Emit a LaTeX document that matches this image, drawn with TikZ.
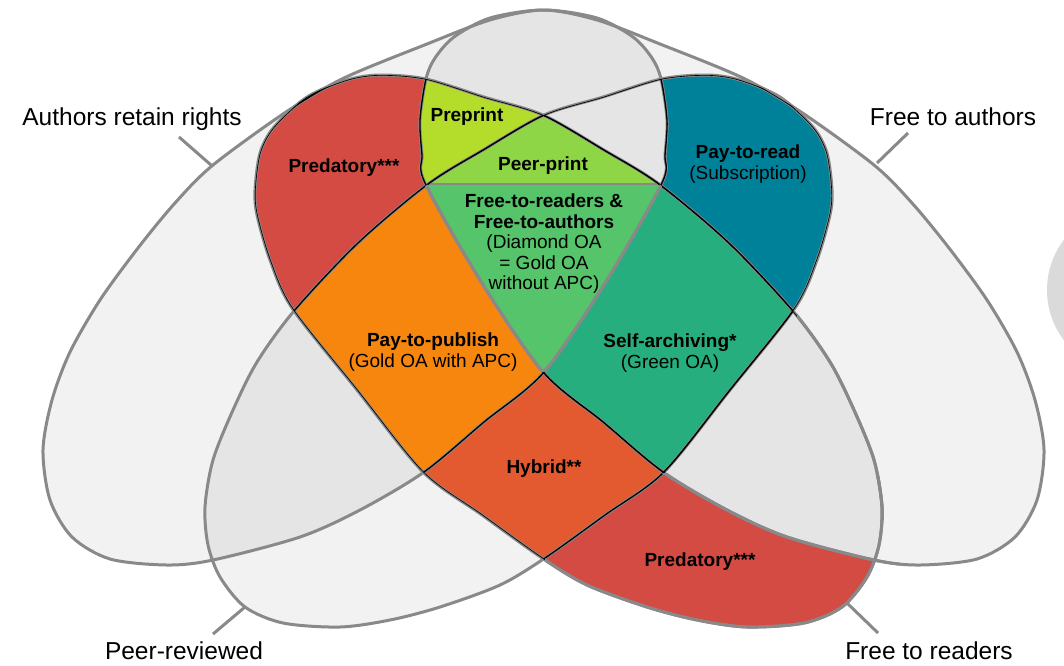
\documentclass[tikz,border=0pt]{standalone}
\usepackage{fontspec}
\setmainfont{Liberation Sans}
\definecolor{lg}{HTML}{F2F2F2}
\definecolor{mg}{HTML}{E5E5E5}
\definecolor{edgegrey}{HTML}{898989}
\definecolor{circgrey}{HTML}{DADADA}
\definecolor{predred}{HTML}{D34B42}
\definecolor{limeg}{HTML}{B4DC2B}
\definecolor{peerg}{HTML}{8FD646}
\definecolor{diamg}{HTML}{55C46A}
\definecolor{tealg}{HTML}{27AE7F}
\definecolor{blueg}{HTML}{00819A}
\definecolor{orangeg}{HTML}{F6860E}
\definecolor{hybr}{HTML}{E45A30}
\def\shAR{plot[smooth cycle] coordinates {(43,450) (52,400) (70,352) (100,300) (138,248) (175,203) (213,165) (286,112) (344,78) (427,44) (490,20) (543,10) (597,18) (633,37) (652,58) (661,79) (667,120) (665,155) (662,183) (607,280) (544,372) (484,422) (424,472) (360,510) (300,537) (213,560) (167,565) (110,559) (72,537) (50,500)}}
\def\shFA{plot[smooth cycle] coordinates {(1044,450) (1035,400) (1017,352) (987,300) (949,248) (912,203) (874,165) (801,112) (743,78) (660,44) (597,20) (544,10) (490,18) (454,37) (435,58) (426,79) (420,120) (422,155) (425,183) (480,280) (543,372) (603,422) (663,472) (727,510) (787,537) (874,560) (920,565) (977,559) (1015,537) (1037,500)}}
\def\shPR{plot[smooth cycle] coordinates {(205,507) (213,460) (233,410) (257,362) (294,311) (358,243) (428,184) (483,150) (544,115) (603,97) (661,79) (707,75) (740,80) (780,97) (813,127) (827,153) (832,190) (830,215) (817,260) (795,308) (730,390) (664,472) (605,515) (545,558) (500,585) (440,607) (390,620) (340,627) (283,623) (245,607) (220,577) (208,545)}}
\def\shFR{plot[smooth cycle] coordinates {(882,507) (874,460) (854,410) (830,362) (793,311) (729,243) (659,184) (604,150) (543,115) (484,97) (426,79) (380,75) (347,80) (307,97) (274,127) (260,153) (255,190) (257,215) (270,260) (292,308) (357,390) (423,472) (482,515) (542,558) (587,585) (647,607) (697,620) (747,627) (804,623) (842,607) (867,577) (879,545)}}
\begin{document}
\begin{tikzpicture}[x=1pt,y=-1pt,
  edge/.style={draw=edgegrey, line width=3pt},
  blk/.style={draw=black, line width=1.3pt},
  ptr/.style={draw=edgegrey, line width=3pt},
  lab/.style={font=\fontsize{24.5}{29}\selectfont, text=black, inner sep=0pt},
  reg/.style={font=\fontsize{19}{20.5}\selectfont, text=black, align=center, inner sep=0pt}]
\useasboundingbox (0,0) rectangle (1064,665);
\fill[white] (0,0) rectangle (1064,665);
% partial grey disc at right edge
\fill[circgrey] (1130,290) circle[radius=83pt];
% base fills
\fill[lg] \shAR; \fill[lg] \shFA; \fill[lg] \shPR; \fill[lg] \shFR;
% overlaps
\begin{scope}\clip \shAR; \fill[mg] \shFA; \fill[mg] \shPR; \fill[mg] \shFR; \end{scope}
\begin{scope}\clip \shFA; \fill[mg] \shPR; \fill[mg] \shFR; \end{scope}
\begin{scope}\clip \shPR; \fill[mg] \shFR; \end{scope}
% coloured regions
\begin{scope}\clip \shPR; \fill[blueg] \shFA; \clip \shFA; \fill[mg] \shAR; \end{scope}
\fill[predred] \shFR;
\begin{scope}\clip \shFR; \fill[mg] \shFA; \clip \shFA; \fill[limeg] \shAR; \end{scope}
\begin{scope}\clip \shFR; \fill[hybr] \shPR; \clip \shPR;
  \fill[orangeg] \shAR; \fill[tealg] \shFA;
  \clip \shFA; \fill[diamg] \shAR; \clip \shAR;
  \fill[peerg] (0,0) rectangle (1064,184);
  \draw[edgegrey, line width=2.5pt] (0,184) -- (1064,184);
\end{scope}
% outlines
\draw[edge] \shAR; \draw[edge] \shFA; \draw[edge] \shPR; \draw[edge] \shFR;
\begin{scope}\clip \shFR; \draw[blk] \shAR; \draw[blk] \shFA; \draw[blk] \shPR; \draw[blk] \shFR; \end{scope}
\begin{scope}\clip \shPR; \clip \shFA; \draw[blk] \shAR; \draw[blk] \shFA; \draw[blk] \shPR; \draw[blk] \shFR; \end{scope}
\begin{scope}\clip \shFR; \clip \shPR; \clip (0,0) rectangle (1064,371); \draw[edge] \shAR; \draw[edge] \shFA; \end{scope}
\begin{scope}\clip (545,473) rectangle (900,665); \draw[edge] \shFA; \draw[edge] \shFR; \end{scope}
\begin{scope}\clip (797,312) rectangle (900,520); \draw[edge] \shFR; \end{scope}
% outer labels and pointers
\node[lab, anchor=base] (tAR) at (132,125) {Authors retain rights};
\node[lab, anchor=base] (tFA) at (953,125) {Free to authors};
\node[lab, anchor=base] (tPR) at (184,659) {Peer-reviewed};
\node[lab, anchor=base] (tFR) at (929,659) {Free to readers};
\coordinate (pAR1) at (179,137); \coordinate (pAR2) at (211,165);
\coordinate (pFA1) at (908,133); \coordinate (pFA2) at (877,163);
\coordinate (pPR1) at (213,634); \coordinate (pPR2) at (245,607);
\coordinate (pFR1) at (878,633); \coordinate (pFR2) at (847,603);
\draw[ptr] (pAR1) -- (pAR2);
\draw[ptr] (pFA1) -- (pFA2);
\draw[ptr] (pPR1) -- (pPR2);
\draw[ptr] (pFR1) -- (pFR2);
% region labels
\node[reg, anchor=base] (lPred1) at (344,172) {\textbf{Predatory***}};
\node[reg, anchor=base] (lPre) at (467,121) {\textbf{Preprint}};
\node[reg, anchor=base] (lPeer) at (543,170) {\textbf{Peer-print}};
\node[reg] (lDia) at (544,244) {\textbf{Free-to-readers \&}\\\textbf{Free-to-authors}\\(Diamond OA\\= Gold OA\\without APC)};
\node[reg] (lPTR) at (748,164) {\textbf{Pay-to-read}\\(Subscription)};
\node[reg] (lPTP) at (433,352) {\textbf{Pay-to-publish}\\(Gold OA with APC)};
\node[reg] (lSA) at (670,353) {\textbf{Self-archiving*}\\(Green OA)};
\node[reg, anchor=base] (lHyb) at (544,473) {\textbf{Hybrid**}};
\node[reg, anchor=base] (lPred2) at (700,566) {\textbf{Predatory***}};
\end{tikzpicture}
\end{document}
